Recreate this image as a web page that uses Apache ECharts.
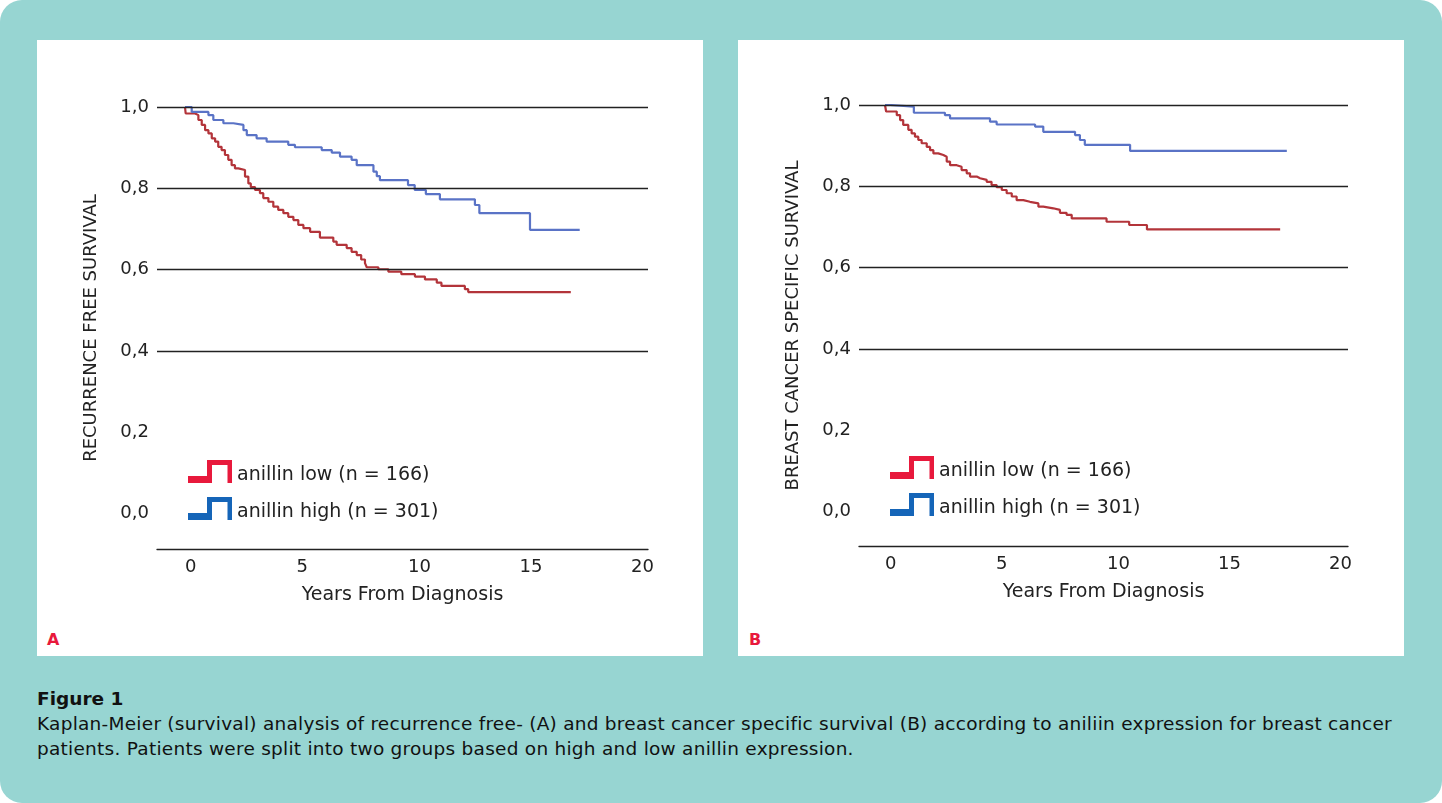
<!DOCTYPE html>
<html>
<head>
<meta charset="utf-8">
<script src="https://cdn.jsdelivr.net/npm/echarts@6/dist/echarts.min.js"></script>
<style>
html,body{margin:0;padding:0;background:#fff;}
#wrap{position:relative;width:1442px;height:803px;overflow:hidden;}
#bg{position:absolute;left:0;top:0;width:1442px;height:803px;background:#97d5d2;border-radius:22px;}
.panel{position:absolute;top:40px;width:666px;height:616px;background:#fff;}
.tag{position:absolute;top:630px;font:bold 16px 'DejaVu Sans',Verdana,sans-serif;color:#e8193c;}
#chart{position:absolute;left:0;top:0;width:1442px;height:803px;}
.cap{position:absolute;left:37px;font-family:'DejaVu Sans',Verdana,sans-serif;font-size:18.5px;letter-spacing:0.25px;line-height:25px;color:#111;white-space:nowrap;}
</style>
</head>
<body>
<div id="wrap">
  <div id="bg"></div>
  <div class="panel" style="left:37px"></div>
  <div class="panel" style="left:738px"></div>
  <div class="tag" style="left:47px">A</div>
  <div class="tag" style="left:749px">B</div>
  <div class="cap" style="top:686px;font-weight:bold;letter-spacing:0">Figure 1</div>
  <div class="cap" style="top:711px">Kaplan-Meier (survival) analysis of recurrence free- (A) and breast cancer specific survival (B) according to aniliin expression for breast cancer<br>patients. Patients were split into two groups based on high and low anillin expression.</div>
  <div id="chart"></div>
</div>
<script>
// ---- data ----
const lowName = 'anillin low (n = 166)';
const highName = 'anillin high (n = 301)';
const xTickLabels = [0, 5, 10, 15, 20];
const yTickLabels = [0, 0.2, 0.4, 0.6, 0.8, 1.0];
const gridValues = [0.4, 0.6, 0.8, 1.0];
const yNameA = 'RECURRENCE FREE SURVIVAL';
const yNameB = 'BREAST CANCER SPECIFIC SURVIVAL';
const xName = 'Years From Diagnosis';

// Panel A: recurrence free survival (event time in years, survival after the event)
const timeLowA = [0, 0.03, 0.45, 0.60, 0.75, 0.90, 1.05, 1.20, 1.35, 1.49, 1.64, 1.79, 1.94, 2.09, 2.24, 2.39, 2.69, 2.84, 2.95, 3.14, 3.36, 3.51, 3.74, 3.96, 4.18, 4.41, 4.63, 4.86, 5.08, 5.31, 5.61, 6.05, 6.65, 6.80, 7.25, 7.47, 7.70, 7.90, 8.07, 8.15, 8.67, 9.12, 9.70, 10.31, 10.76, 11.29, 11.50, 12.55, 12.70, 17.30];
const survLowA = [1.0, 0.984, 0.980, 0.968, 0.956, 0.943, 0.935, 0.923, 0.915, 0.902, 0.894, 0.882, 0.870, 0.857, 0.849, 0.845, 0.829, 0.812, 0.803, 0.796, 0.788, 0.776, 0.767, 0.755, 0.747, 0.739, 0.730, 0.722, 0.710, 0.702, 0.693, 0.679, 0.669, 0.661, 0.653, 0.644, 0.636, 0.625, 0.616, 0.606, 0.601, 0.595, 0.589, 0.583, 0.576, 0.568, 0.560, 0.552, 0.545, 0.545];
const timeHighA = [0, 0.3, 1.05, 1.27, 1.72, 2.17, 2.62, 2.77, 3.21, 3.66, 4.63, 4.93, 6.13, 6.58, 6.95, 7.47, 7.70, 8.45, 8.60, 8.74, 10.0, 10.3, 10.8, 11.43, 13.0, 13.2, 15.47, 17.7];
const survHighA = [1.0, 0.988, 0.980, 0.968, 0.960, 0.956, 0.943, 0.931, 0.923, 0.915, 0.907, 0.901, 0.894, 0.888, 0.878, 0.870, 0.857, 0.841, 0.830, 0.820, 0.808, 0.796, 0.786, 0.773, 0.759, 0.739, 0.698, 0.698];

// Panel B: breast cancer specific survival
const timeLowB = [0, 0.05, 0.53, 0.68, 0.82, 1.05, 1.20, 1.35, 1.50, 1.65, 1.88, 2.03, 2.18, 2.40, 2.63, 2.78, 2.93, 3.23, 3.45, 3.68, 3.83, 4.13, 4.28, 4.58, 4.80, 5.03, 5.26, 5.48, 5.71, 5.93, 6.23, 6.53, 6.91, 7.13, 7.58, 7.88, 8.18, 8.41, 9.98, 11.0, 11.8, 17.8];
const survLowB = [1.0, 0.984, 0.975, 0.963, 0.951, 0.939, 0.930, 0.922, 0.914, 0.906, 0.897, 0.889, 0.881, 0.877, 0.873, 0.861, 0.852, 0.848, 0.840, 0.832, 0.824, 0.820, 0.816, 0.811, 0.803, 0.798, 0.791, 0.783, 0.775, 0.766, 0.762, 0.758, 0.750, 0.746, 0.742, 0.735, 0.730, 0.721, 0.713, 0.705, 0.694, 0.694];
const timeHighB = [0, 0.23, 1.3, 2.7, 2.93, 4.73, 5.03, 6.76, 7.13, 8.56, 8.78, 9.0, 11.04, 18.1];
const survHighB = [1.0, 0.996, 0.981, 0.975, 0.967, 0.959, 0.952, 0.947, 0.934, 0.926, 0.914, 0.902, 0.887, 0.887];

// ---- styling ----
const FONT = "'DejaVu Sans', Verdana, sans-serif";
const lineRed = '#b3343a';
const lineBlue = '#5a73c6';
const iconRed = '#e8193c';
const iconBlue = '#1565b8';
const stepIcon = 'path://M0,16 L19,16 L19,0 L44,0 L44,23 L39.5,23 L39.5,5 L24,5 L24,23 L0,23 Z';

function pairs(t, s) { return t.map((v, i) => [v, s[i]]); }

function xAxisDef(idx, min, max) {
  return {
    type: 'value', gridIndex: idx, min: min, max: max,
    name: xName, nameLocation: 'middle', nameGap: 37,
    nameTextStyle: { fontFamily: FONT, fontSize: 19, color: '#222' },
    axisLine: { show: true, onZero: false, lineStyle: { color: '#222', width: 1.3 } },
    axisTick: { show: false },
    splitLine: { show: false },
    axisLabel: { customValues: xTickLabels, align: 'left', margin: 9, fontFamily: FONT, fontSize: 18, color: '#222' }
  };
}
function yAxisDef(idx, min, name) {
  return {
    type: 'value', gridIndex: idx, min: min, max: 1.0,
    name: name, nameLocation: 'middle', nameGap: 57,
    nameTextStyle: { fontFamily: FONT, fontSize: 18, color: '#222' },
    axisLine: { show: false, onZero: false }, axisTick: { show: false }, splitLine: { show: false },
    axisLabel: {
      customValues: yTickLabels, margin: 8, fontFamily: FONT, fontSize: 18, color: '#222',
      formatter: v => v.toFixed(1).replace('.', ',')
    }
  };
}
function gridMarks() {
  return {
    silent: true, symbol: 'none', label: { show: false },
    lineStyle: { color: '#222', width: 1.3, type: 'solid' },
    emphasis: { disabled: true },
    data: gridValues.map(v => ({ yAxis: v }))
  };
}
function curve(name, idx, data, color, withGrid) {
  const s = {
    name: name, type: 'line', step: 'end', xAxisIndex: idx, yAxisIndex: idx,
    data: data, showSymbol: false, symbol: 'none', animation: false,
    lineStyle: { color: color, width: 2.2 }, itemStyle: { color: color }, z: 3
  };
  if (withGrid) s.markLine = gridMarks();
  return s;
}
function legendDef(left, top) {
  return {
    left: left, top: top, orient: 'vertical', itemWidth: 44, itemHeight: 23, itemGap: 12,
    padding: 0, selectedMode: false,
    itemStyle: { borderWidth: 0 },
    formatter: name => '{t|' + name + '}',
    textStyle: {
      fontFamily: FONT, fontSize: 19, color: '#222',
      rich: { t: { fontFamily: FONT, fontSize: 19, color: '#222', padding: [8, 0, 0, 0] } }
    },
    data: [
      { name: lowName, icon: stepIcon, itemStyle: { color: iconRed, borderWidth: 0 } },
      { name: highName, icon: stepIcon, itemStyle: { color: iconBlue, borderWidth: 0 } }
    ]
  };
}

const chart = echarts.init(document.getElementById('chart'), null, { renderer: 'canvas' });
chart.setOption({
  backgroundColor: 'transparent',
  animation: false,
  textStyle: { fontFamily: FONT },
  grid: [
    { left: 157, top: 107, width: 491, height: 442 },
    { left: 859, top: 105, width: 489, height: 441 }
  ],
  xAxis: [xAxisDef(0, -1.256, 20.762), xAxisDef(1, -1.171, 20.856)],
  yAxis: [yAxisDef(0, -0.0868, yNameA), yAxisDef(1, -0.0843, yNameB)],
  legend: [legendDef(188, 460), legendDef(890, 456)],
  series: [
    curve(lowName, 0, pairs(timeLowA, survLowA), lineRed, true),
    curve(highName, 0, pairs(timeHighA, survHighA), lineBlue, false),
    curve(lowName, 1, pairs(timeLowB, survLowB), lineRed, true),
    curve(highName, 1, pairs(timeHighB, survHighB), lineBlue, false)
  ]
});
</script>
</body>
</html>
